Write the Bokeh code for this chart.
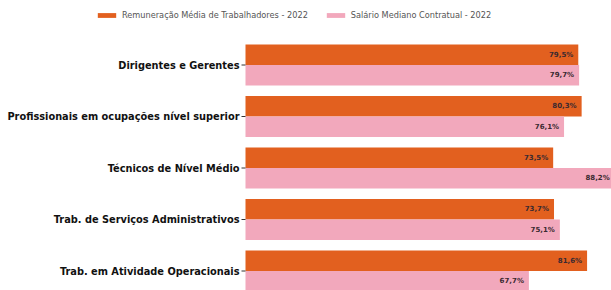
from bokeh.plotting import figure
from bokeh.models import ColumnDataSource, Legend, LegendItem, Range1d
from bokeh.core.properties import value
from bokeh.embed import file_html
from bokeh.resources import INLINE

categories = [
    "Dirigentes e Gerentes",
    "Profissionais em ocupações nível superior",
    "Técnicos de Nível Médio",
    "Trab. de Serviços Administrativos",
    "Trab. em Atividade Operacionais",
]
remuneracao = [79.5, 80.3, 73.5, 73.7, 81.6]
salario = [79.7, 76.1, 88.2, 75.1, 67.7]
series_names = ["Remuneração Média de Trabalhadores - 2022", "Salário Mediano Contratual - 2022"]

ORANGE = "#E2601F"
PINK = "#F2A8BC"

n = len(categories)
pos = [-i for i in range(n)]
bh = 0.4

def fmt(v):
    return ("%.1f%%" % v).replace(".", ",")

src_a = ColumnDataSource(dict(y=[p + bh / 2 for p in pos], v=remuneracao, lab=[fmt(v) for v in remuneracao]))
src_b = ColumnDataSource(dict(y=[p - bh / 2 for p in pos], v=salario, lab=[fmt(v) for v in salario]))

W, H = 611, 290
LEFT = 245          # pixel where value 0 lies
ppu = 4.186         # pixels per percentage point
pitch = 51.5
center0 = 64.5
TICK = 4
y_top = center0 / pitch
y_bot = -(H - center0) / pitch

p = figure(width=W, height=H, output_backend="svg", toolbar_location=None,
           x_range=Range1d(-LEFT / ppu, (W - LEFT) / ppu), y_range=Range1d(y_bot, y_top),
           x_axis_location=None, y_axis_location=None,
           min_border_left=0, min_border_right=0, min_border_top=0, min_border_bottom=0)
p.outline_line_color = None
p.grid.visible = False

ra = p.hbar(y="y", right="v", left=0, height=bh, source=src_a, color=ORANGE, line_color=None)
rb = p.hbar(y="y", right="v", left=0, height=bh, source=src_b, color=PINK, line_color=None)

for s in (src_a, src_b):
    p.text(x="v", y="y", text="lab", source=s, x_offset=-5,
           text_align="right", text_baseline="middle",
           text_font=value("DejaVu Sans"), text_font_style="bold",
           text_font_size="7px", text_color="#3a2a30")

# category axis (labels + ticks) at value 0
cat_src = ColumnDataSource(dict(y=pos, cat=categories, x0=[-TICK / ppu] * n, x1=[0] * n))
p.segment(x0="x0", x1="x1", y0="y", y1="y", source=cat_src, line_color="#333333", line_width=1)
p.text(x="x0", y="y", text="cat", source=cat_src, x_offset=-2,
       text_align="right", text_baseline="middle",
       text_font=value("DejaVu Sans"), text_font_style="bold",
       text_font_size="9.8px", text_color="#111111")

legend = Legend(items=[LegendItem(label=series_names[0], renderers=[ra]),
                       LegendItem(label=series_names[1], renderers=[rb])],
                orientation="horizontal", location=(95, H - 20),
                label_text_font="DejaVu Sans", label_text_font_size="8.2px",
                label_text_color="#555555", glyph_width=23, glyph_height=6,
                spacing=16, label_standoff=4, padding=0, margin=0,
                border_line_color=None, background_fill_alpha=0)
p.add_layout(legend, "center")

open("out.html", "w").write(file_html(p, INLINE))
